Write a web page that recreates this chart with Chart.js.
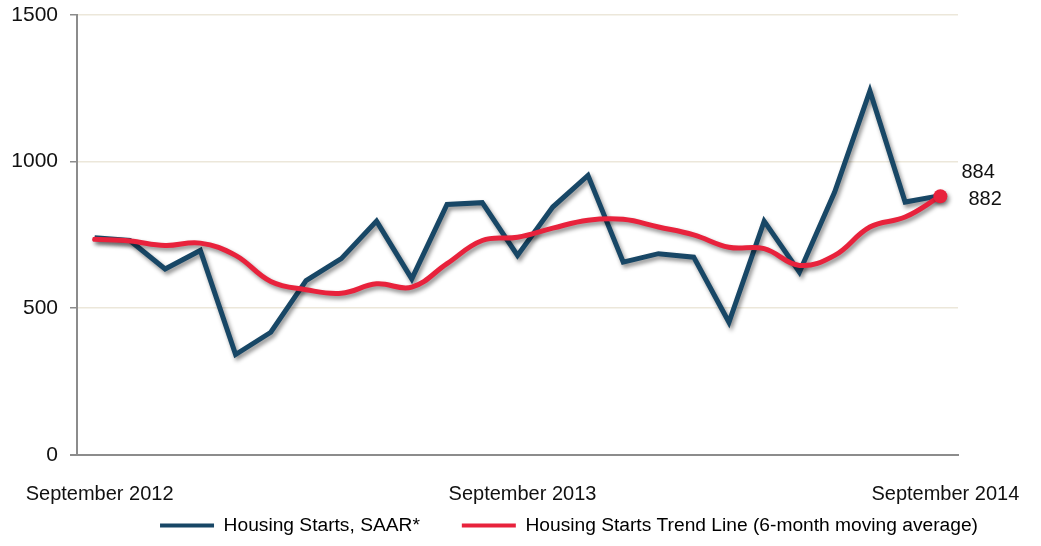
<!DOCTYPE html>
<html>
<head>
<meta charset="utf-8">
<script src="https://cdn.jsdelivr.net/npm/chart.js@4.4.1/dist/chart.umd.min.js"></script>
<style>
  html, body { margin: 0; padding: 0; background: #ffffff; }
  #wrap { width: 1041px; height: 546px; position: relative; }
</style>
</head>
<body>
<div id="wrap"><canvas id="c" width="1041" height="546"></canvas></div>
<script>
const categories = [
  "September 2012","October 2012","November 2012","December 2012","January 2013","February 2013",
  "March 2013","April 2013","May 2013","June 2013","July 2013","August 2013",
  "September 2013","October 2013","November 2013","December 2013","January 2014","February 2014",
  "March 2014","April 2014","May 2014","June 2014","July 2014","August 2014","September 2014"
];
const tickLabelIndices = [0, 12, 24];
const housingStarts = [740, 731, 634, 697, 342, 418, 594, 669, 797, 600, 854, 860, 680, 845, 953, 657, 686, 674, 452, 797, 623, 896, 1241, 862, 884];
const trendLine = [735, 729, 714, 722, 680, 591, 563, 551, 583, 572, 652, 731, 742, 773, 800, 803, 777, 750, 708, 703, 646, 680, 777, 811, 882];
const seriesNames = ["Housing Starts, SAAR*", "Housing Starts Trend Line (6-month moving average)"];
const yTicks = [0, 500, 1000, 1500];

const BLUE = '#184766';
const RED = '#e8223c';
const FONT = "'Liberation Sans', Arial, sans-serif";

const shadowPlugin = {
  id: 'shadow',
  beforeDatasetDraw(chart) {
    const ctx = chart.ctx;
    ctx.save();
    ctx.shadowColor = 'rgba(0,0,0,0.45)';
    ctx.shadowBlur = 4;
    ctx.shadowOffsetX = 2;
    ctx.shadowOffsetY = 3;
  },
  afterDatasetDraw(chart) {
    chart.ctx.restore();
  }
};

const endLabelsPlugin = {
  id: 'endLabels',
  afterDatasetsDraw(chart) {
    const ctx = chart.ctx;
    const xs = chart.scales.x, ys = chart.scales.y;
    const last = categories.length - 1;
    const x = xs.getPixelForValue(last);
    ctx.save();
    ctx.font = '20px ' + FONT;
    ctx.fillStyle = '#111';
    ctx.textAlign = 'left';
    ctx.textBaseline = 'middle';
    ctx.fillText(String(housingStarts[last]), x + 21, ys.getPixelForValue(housingStarts[last]) - 23);
    ctx.fillText(String(trendLine[last]), x + 28, ys.getPixelForValue(trendLine[last]) + 3);
    ctx.restore();
  }
};

const legendShiftPlugin = {
  id: 'legendShift',
  afterLayout(chart) {
    const lg = chart.legend;
    if (lg) { lg.left += 85; lg.right += 85; }
  }
};

const chart = new Chart(document.getElementById('c'), {
  type: 'line',
  data: {
    labels: categories,
    datasets: [
      {
        label: seriesNames[1],
        data: trendLine,
        borderColor: RED,
        backgroundColor: RED,
        borderWidth: 5,
        tension: 0.4,
        pointRadius: trendLine.map((v, i) => i === trendLine.length - 1 ? 7 : 0),
        pointBackgroundColor: RED,
        pointBorderWidth: 0,
        borderCapStyle: 'round',
        borderJoinStyle: 'round'
      },
      {
        label: seriesNames[0],
        data: housingStarts,
        borderColor: BLUE,
        backgroundColor: BLUE,
        borderWidth: 5,
        tension: 0,
        pointRadius: 0,
        borderJoinStyle: 'miter'
      }
    ]
  },
  options: {
    responsive: false,
    animation: false,
    devicePixelRatio: 1,
    layout: { padding: { left: 10, right: 83, top: 15, bottom: 1 } },
    plugins: {
      tooltip: { enabled: false },
      legend: {
        position: 'bottom',
        labels: {
          font: { family: FONT, size: 19.2 },
          color: '#111',
          boxWidth: 54,
          boxHeight: 4,
          padding: 10,
          sort: (a, b) => b.datasetIndex - a.datasetIndex,
          generateLabels(chart) {
            return chart.data.datasets.map((ds, i) => ({
              text: i === 1 ? ds.label + '      ' : ds.label,
              fillStyle: ds.borderColor,
              strokeStyle: ds.borderColor,
              lineWidth: 0,
              hidden: false,
              datasetIndex: i
            }));
          }
        }
      }
    },
    scales: {
      x: {
        type: 'category',
        offset: true,
        afterFit(scale) { scale.height = 51; scale.paddingLeft = 0; scale.paddingRight = 0; },
        grid: { display: false, drawTicks: false },
        border: { display: true, color: '#8c8c8c', width: 2 },
        ticks: {
          autoSkip: false,
          maxRotation: 0,
          padding: 28,
          labelOffset: 5,
          color: '#111',
          font: { family: FONT, size: 20 },
          callback(value, index) {
            return tickLabelIndices.includes(index) ? categories[index] : '';
          }
        }
      },
      y: {
        min: 0,
        max: 1500,
        afterFit(scale) { scale.width = 67; scale.paddingTop = 0; scale.paddingBottom = 0; },
        afterBuildTicks(scale) { scale.ticks = yTicks.map(v => ({ value: v })); },
        grid: {
          color: (ctx) => ctx.tick && ctx.tick.value === 0 ? '#8c8c8c' : '#ece7da',
          lineWidth: (ctx) => ctx.tick && ctx.tick.value === 0 ? 2 : 1.5,
          tickColor: '#8c8c8c',
          tickLength: 7,
          drawTicks: true
        },
        border: { display: true, color: '#8c8c8c', width: 2 },
        ticks: {
          padding: 12,
          color: '#111',
          font: { family: FONT, size: 21 },
          callback: (v) => String(v)
        }
      }
    }
  },
  plugins: [shadowPlugin, endLabelsPlugin, legendShiftPlugin]
});
</script>
</body>
</html>
